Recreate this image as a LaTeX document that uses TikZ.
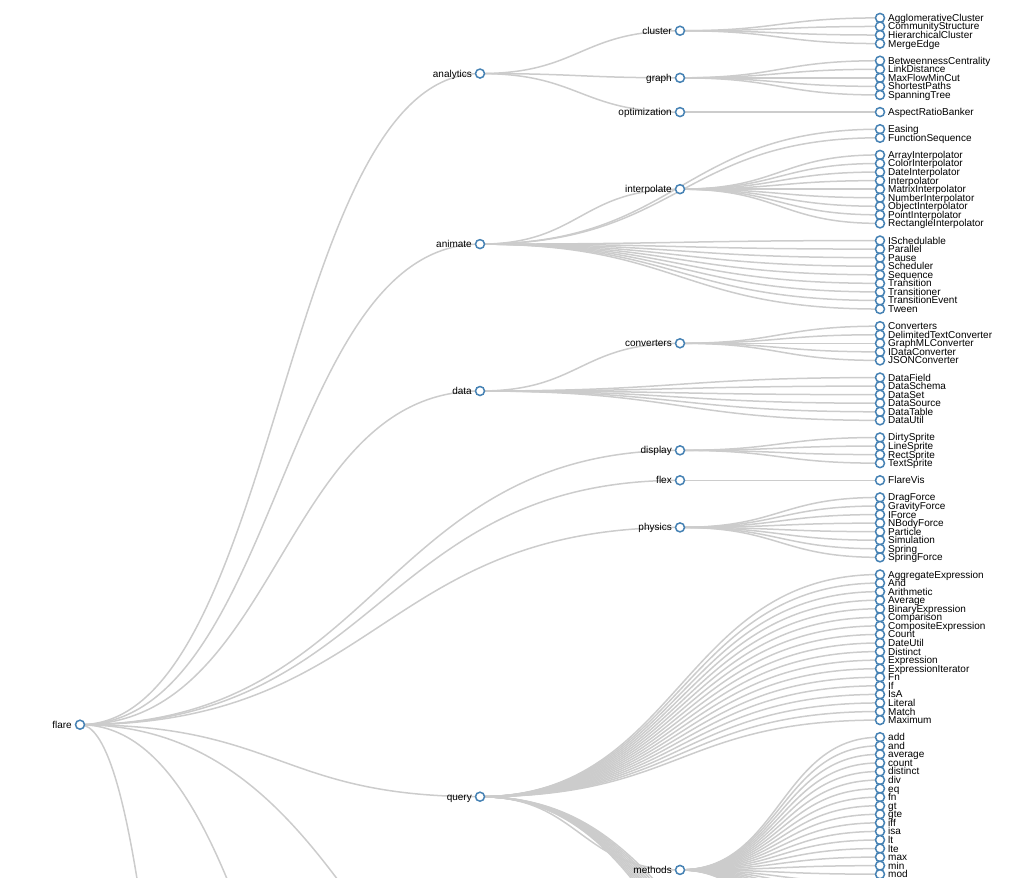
\documentclass[tikz,border=0pt]{standalone}
\usepackage{fontspec}
\setmainfont{Liberation Sans}
\usetikzlibrary{calc}
\definecolor{steel}{HTML}{4682B4}
\definecolor{linkgray}{HTML}{CCCCCC}
\tikzset{
  dot/.style={circle,draw=steel,line width=1.5pt,fill=white,inner sep=0pt,minimum size=9pt},
  link/.style={draw=linkgray,line width=1.5pt},
  ltxt/.style={anchor=base west,inner sep=0pt,font=\fontsize{10}{12}\selectfont},
  rtxt/.style={anchor=base east,inner sep=0pt,font=\fontsize{10}{12}\selectfont},
}
\newcommand\lnk[2]{\path[link] let \p1=(#1), \p2=(#2), \p3=($(\p1)!.5!(\p2)$) in (\p1) .. controls (\x3,\y1) and (\x3,\y2) .. (\p2);}
\def\internals{analytics/480/6.5/flare, cluster/680/1.5/analytics, graph/680/7/analytics, optimization/680/11/analytics,
animate/480/26.4167/flare, interpolate/680/20/animate, data/480/43.5714/flare, converters/680/38/data,
display/680/50.5/flare, flex/680/54/flare, physics/680/59.5/flare, query/480/90.9483/flare, methods/680/99.5/query,
scale/680/132.5/flare, util/480/153.2105/flare, vis/280/208.85/flare}
\def\leaves{AgglomerativeCluster/0/cluster, CommunityStructure/1/cluster, HierarchicalCluster/2/cluster, MergeEdge/3/cluster,
BetweennessCentrality/5/graph, LinkDistance/6/graph, MaxFlowMinCut/7/graph, ShortestPaths/8/graph, SpanningTree/9/graph,
AspectRatioBanker/11/optimization,
Easing/13/animate, FunctionSequence/14/animate,
ArrayInterpolator/16/interpolate, ColorInterpolator/17/interpolate, DateInterpolator/18/interpolate, Interpolator/19/interpolate,
MatrixInterpolator/20/interpolate, NumberInterpolator/21/interpolate, ObjectInterpolator/22/interpolate, PointInterpolator/23/interpolate,
RectangleInterpolator/24/interpolate,
ISchedulable/26/animate, Parallel/27/animate, Pause/28/animate, Scheduler/29/animate, Sequence/30/animate, Transition/31/animate,
Transitioner/32/animate, TransitionEvent/33/animate, Tween/34/animate,
Converters/36/converters, DelimitedTextConverter/37/converters, GraphMLConverter/38/converters, IDataConverter/39/converters, JSONConverter/40/converters,
DataField/42/data, DataSchema/43/data, DataSet/44/data, DataSource/45/data, DataTable/46/data, DataUtil/47/data,
DirtySprite/49/display, LineSprite/50/display, RectSprite/51/display, TextSprite/52/display,
FlareVis/54/flex,
DragForce/56/physics, GravityForce/57/physics, IForce/58/physics, NBodyForce/59/physics, Particle/60/physics, Simulation/61/physics,
Spring/62/physics, SpringForce/63/physics,
AggregateExpression/65/query, And/66/query, Arithmetic/67/query, Average/68/query, BinaryExpression/69/query, Comparison/70/query,
CompositeExpression/71/query, Count/72/query, DateUtil/73/query, Distinct/74/query, Expression/75/query, ExpressionIterator/76/query,
Fn/77/query, If/78/query, IsA/79/query, Literal/80/query, Match/81/query, Maximum/82/query,
add/84/methods, and/85/methods, average/86/methods, count/87/methods, distinct/88/methods, div/89/methods, eq/90/methods,
fn/91/methods, gt/92/methods, gte/93/methods, iff/94/methods, isa/95/methods, lt/96/methods, lte/97/methods, max/98/methods,
min/99/methods, mod/100/methods, mul/101/methods, neq/102/methods, not/103/methods, or/104/methods, orderby/105/methods,
range/106/methods, select/107/methods, stddev/108/methods, sub/109/methods, sum/110/methods, update/111/methods,
variance/112/methods, where/113/methods, xor/114/methods, us/115/methods,
Minimum/117/query, Not/118/query, Or/119/query, Query/120/query, Range/121/query, StringUtil/122/query, Sum/123/query,
Variable/124/query, Variance/125/query, Xor/126/query}
\newcommand\yof[1]{17.9+8.563*#1}
\begin{document}
\begin{tikzpicture}[x=1pt,y=-1pt]
\useasboundingbox (0,0) rectangle (1018,878);
\clip (0,0) rectangle (1018,878);
% positions
\coordinate (I-flare) at (80,724.7);
\foreach \nm/\xx/\k/\pa in \internals {\coordinate (I-\nm) at (\xx,{\yof{\k}});}
\foreach \nm/\k/\pa in \leaves {\coordinate (L-\nm) at (880,{\yof{\k}});}
% links
\foreach \nm/\xx/\k/\pa in \internals {\lnk{I-\pa}{I-\nm}}
\foreach \nm/\k/\pa in \leaves {\lnk{I-\pa}{L-\nm}}
% nodes (only those that reach into the visible area)
\node[dot] (D-flare) at (I-flare) {};
\node[rtxt] (T-flare) at ($(I-flare)+(-8,3.5)$) {flare};
\foreach \nm/\xx/\k/\pa in \internals {
  \pgfmathparse{(\yof{\k})<882 ? 1 : 0}
  \ifnum\pgfmathresult=1
    \node[dot] (D-\nm) at (I-\nm) {};
    \node[rtxt] (T-\nm) at ($(I-\nm)+(-8,3.5)$) {\nm};
  \fi
}
\foreach \nm/\k/\pa in \leaves {
  \pgfmathparse{(\yof{\k})<882 ? 1 : 0}
  \ifnum\pgfmathresult=1
    \node[dot] (D-\nm) at (L-\nm) {};
    \node[ltxt] (T-\nm) at ($(L-\nm)+(8,3.5)$) {\nm};
  \fi
}
\end{tikzpicture}
\end{document}
